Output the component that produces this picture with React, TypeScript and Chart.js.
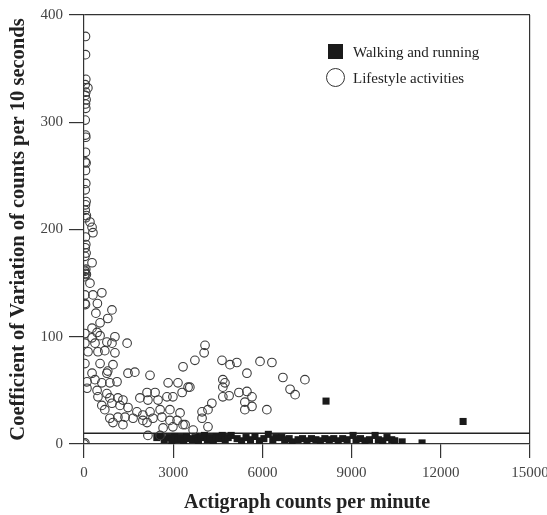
import React, { useEffect, useRef } from "react";
import { Chart, registerables } from "chart.js";

Chart.register(...registerables);

const xTicks = [0, 3000, 6000, 9000, 12000, 15000];
const yTicks = [0, 100, 200, 300, 400];
const refLineY = 10;

const lifestyle: [number, number][] = [
  [50, 380], [50, 363], [60, 340], [40, 335], [130, 332], [60, 328], [40, 325], [70, 321],
  [50, 317], [60, 313], [40, 302], [50, 288], [60, 286], [50, 272], [40, 263], [70, 262],
  [50, 255], [60, 243], [40, 237], [70, 226], [50, 223], [40, 218], [80, 213], [60, 211],
  [200, 207], [270, 202], [300, 197], [50, 193], [60, 186], [40, 183], [70, 178], [30, 175],
  [270, 169], [30, 161], [50, 159], [80, 158], [20, 162], [60, 163], [20, 156], [200, 150],
  [30, 139], [300, 139], [600, 141], [30, 131], [50, 130], [450, 131], [400, 122], [940, 125],
  [800, 117], [540, 113], [270, 108], [440, 104], [30, 103], [270, 99], [540, 101], [940, 94],
  [1040, 100], [1450, 94], [30, 94], [370, 94], [770, 95], [135, 86], [470, 86], [700, 87],
  [1040, 85], [30, 75], [540, 75], [975, 74], [1480, 66], [1710, 67], [2220, 64], [3330, 72],
  [3730, 78], [270, 66], [770, 66], [800, 68], [100, 58], [370, 60], [600, 57], [870, 57],
  [1110, 58], [100, 52], [440, 50], [770, 47], [470, 44], [870, 43], [1140, 43], [1310, 41],
  [2120, 48], [2390, 48], [2830, 57], [3160, 57], [3500, 53], [1880, 43], [2150, 41], [2490, 41],
  [2790, 44], [2990, 44], [600, 36], [940, 38], [1210, 36], [1480, 34], [1780, 30], [1980, 27],
  [2220, 30], [2560, 32], [2890, 32], [3230, 29], [700, 32], [870, 24], [1140, 25], [1380, 25],
  [1650, 24], [1980, 22], [2320, 24], [2620, 25], [2890, 22], [3130, 22], [975, 20], [1310, 18],
  [2120, 20], [2660, 15], [2990, 16], [3330, 18], [2150, 8], [2560, 8], [0, 0], [30, 1],
  [4070, 92], [4040, 85], [4640, 78], [4910, 74], [5140, 76], [5920, 77], [6320, 76], [5480, 66],
  [4670, 60], [4740, 57], [4670, 53], [6690, 62], [7430, 60], [6930, 51], [7100, 46], [3560, 53],
  [3300, 48], [4670, 44], [4880, 45], [5210, 48], [5480, 49], [5650, 44], [5410, 39], [5650, 35],
  [5410, 32], [6150, 32], [4300, 38], [4170, 32], [3970, 30], [3970, 24], [3400, 18], [4170, 16],
  [3670, 13],
];

const walking: [number, number][] = [
  [2450, 6], [2600, 7], [2700, 4], [2850, 6], [2950, 3], [3050, 7], [3150, 4], [3250, 6],
  [3350, 3], [3450, 7], [3550, 5], [3650, 4], [3750, 7], [3850, 3], [3950, 6], [4050, 8],
  [4150, 4], [4250, 6], [4350, 3], [4450, 7], [4550, 5], [4650, 8], [4750, 4], [4850, 6],
  [4950, 8], [5150, 5], [5300, 3], [5450, 6], [5600, 4], [5750, 7], [5900, 3], [6050, 5],
  [6200, 9], [6350, 4], [6450, 6], [6650, 6], [6750, 4], [6900, 5], [7000, 2], [7200, 4],
  [7350, 5], [7500, 3], [7650, 5], [7800, 4], [7950, 3], [8100, 5], [8250, 4], [8400, 5],
  [8550, 3], [8700, 5], [8850, 4], [9050, 8], [9150, 4], [9300, 5], [9450, 3], [9600, 4],
  [9790, 8], [9900, 4], [10050, 3], [10190, 6], [10350, 4], [10450, 3], [10700, 2], [11370, 1],
  [8140, 40], [12750, 21],
];

const SERIF = '"Liberation Serif", "Times New Roman", serif';

export default function App() {
  const ref = useRef<HTMLCanvasElement | null>(null);

  useEffect(() => {
    if (!ref.current) return;
    const chart = new Chart(ref.current, {
      type: "scatter",
      data: {
        datasets: [
          {
            label: "Lifestyle activities",
            data: lifestyle.map(([x, y]) => ({ x, y })),
            pointStyle: "circle",
            pointRadius: 4.3,
            borderColor: "#3a3a3a",
            borderWidth: 1.1,
            backgroundColor: "rgba(0,0,0,0)",
          },
          {
            label: "Walking and running",
            data: walking.map(([x, y]) => ({ x, y })),
            pointStyle: "rect",
            pointRadius: 5,
            borderColor: "#1a1a1a",
            borderWidth: 0,
            backgroundColor: "#1a1a1a",
          },
          {
            type: "line",
            label: "ref",
            data: [
              { x: xTicks[0], y: refLineY },
              { x: xTicks[xTicks.length - 1], y: refLineY },
            ],
            borderColor: "#222",
            borderWidth: 1.5,
            pointRadius: 0,
          } as any,
        ],
      },
      options: {
        responsive: false,
        animation: false,
        layout: { padding: { top: 15, right: 17, left: 0, bottom: 0 } },
        plugins: { legend: { display: false }, tooltip: { enabled: false } },
        scales: {
          x: {
            type: "linear",
            min: 0,
            max: 15000,
            afterBuildTicks: (s: any) => {
              s.ticks = xTicks.map((v) => ({ value: v }));
            },
            afterFit: (s: any) => {
              s.height = 71;
              s.paddingLeft = 0;
              s.paddingRight = 0;
            },
            ticks: {
              color: "#444",
              font: { family: SERIF, size: 15 },
              padding: 6,
              maxRotation: 0,
              callback: (v: any) => String(v),
            },
            grid: {
              drawOnChartArea: true,
              color: (c: any) => (c.tick && c.tick.value === 15000 ? "#333" : "rgba(0,0,0,0)"),
              tickColor: "#333",
              tickLength: 14,
              lineWidth: 1.2,
            },
            border: { display: true, color: "#333", width: 1.2 },
            title: {
              display: true,
              text: "Actigraph counts per minute",
              color: "#222",
              font: { family: SERIF, size: 20, weight: "bold" },
              padding: { top: 0, bottom: 0 },
            },
          },
          y: {
            type: "linear",
            min: 0,
            max: 400,
            afterBuildTicks: (s: any) => {
              s.ticks = yTicks.map((v) => ({ value: v }));
            },
            afterFit: (s: any) => {
              s.width = 84;
              s.paddingTop = 0;
              s.paddingBottom = 0;
            },
            ticks: {
              color: "#444",
              font: { family: SERIF, size: 15 },
              padding: 6,
            },
            grid: {
              drawOnChartArea: true,
              color: (c: any) => (c.tick && c.tick.value === 400 ? "#333" : "rgba(0,0,0,0)"),
              tickColor: "#333",
              tickLength: 15,
              lineWidth: 1.2,
            },
            border: { display: true, color: "#333", width: 1.2 },
            title: {
              display: true,
              text: "Coefficient of Variation of counts per 10 seconds",
              color: "#222",
              font: { family: SERIF, size: 20.5, weight: "bold" },
              padding: { top: 6, bottom: 0 },
            },
          },
        },
      } as any,
    });
    return () => chart.destroy();
  }, []);

  return (
    <div style={{ position: "fixed", left: 0, top: 0, width: 547, height: 515, background: "#fff" }}>
      <canvas ref={ref} width={547} height={515} style={{ display: "block" }} />
      <div style={{ position: "absolute", left: 328, top: 44, width: 15, height: 15, background: "#1a1a1a" }} />
      <div
        style={{
          position: "absolute", left: 353, top: 43, fontFamily: SERIF, fontSize: 15,
          lineHeight: "18px", color: "#222", whiteSpace: "nowrap",
        }}
      >
        Walking and running
      </div>
      <div
        style={{
          position: "absolute", left: 326, top: 68, width: 17, height: 17, borderRadius: "50%",
          border: "1.3px solid #333", boxSizing: "content-box",
        }}
      />
      <div
        style={{
          position: "absolute", left: 353, top: 69, fontFamily: SERIF, fontSize: 15,
          lineHeight: "18px", color: "#222", whiteSpace: "nowrap",
        }}
      >
        Lifestyle activities
      </div>
    </div>
  );
}
